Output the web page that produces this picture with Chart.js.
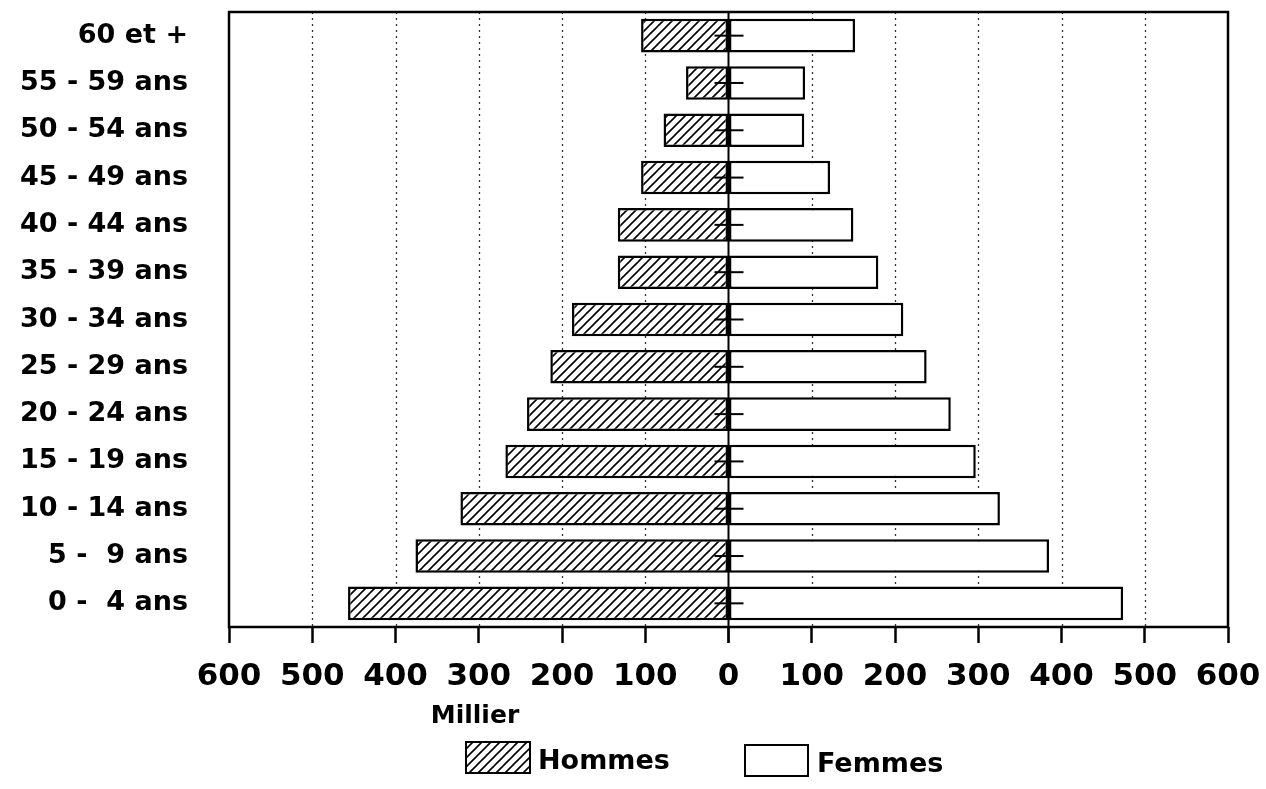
<!DOCTYPE html>
<html lang="fr">
<head>
  <meta charset="UTF-8" />
  <title>Pyramide des âges</title>
  <script src="https://cdn.jsdelivr.net/npm/chart.js"></script>
  <style>
    html, body { margin: 0; padding: 0; background: #fff; }
    #wrap { width: 1266px; height: 789px; position: relative; }
  </style>
</head>
<body>
  <div id="wrap"><canvas id="pyramid"></canvas></div>

  <script>
    // age groups, top to bottom
    const ageGroups = ["60 et +", "55 - 59 ans", "50 - 54 ans", "45 - 49 ans", "40 - 44 ans",
      "35 - 39 ans", "30 - 34 ans", "25 - 29 ans", "20 - 24 ans", "15 - 19 ans",
      "10 - 14 ans", "5 -  9 ans", "0 -  4 ans"];
    // milliers
    const hommes = [105, 51, 78, 105, 133, 133, 188, 214, 242, 268, 322, 376, 457];
    const femmes = [152, 92, 91, 122, 150, 180, 210, 238, 267, 297, 326, 385, 474];
    const xLimit = 600;
    const xStep = 100;

    const FONT = "'DejaVu Sans', sans-serif";

    // hatch pattern for Hommes
    function makeHatch() {
      const s = 9;
      const c = document.createElement("canvas");
      c.width = s; c.height = s;
      const g = c.getContext("2d");
      g.fillStyle = "#fff";
      g.fillRect(0, 0, s, s);
      g.strokeStyle = "#000";
      g.lineWidth = 1.6;
      g.beginPath();
      g.moveTo(0, s); g.lineTo(s, 0);
      g.moveTo(-s / 2, s / 2); g.lineTo(s / 2, -s / 2);
      g.moveTo(s / 2, s + s / 2); g.lineTo(s + s / 2, s / 2);
      g.stroke();
      return g.createPattern(c, "repeat");
    }
    const ctx = document.getElementById("pyramid").getContext("2d");
    const hatch = makeHatch();

    const pyramidDecor = {
      id: "pyramidDecor",
      beforeDatasetsDraw(chart) {
        const { ctx, chartArea: a, scales: { x } } = chart;
        ctx.save();
        ctx.strokeStyle = "#333";
        ctx.lineWidth = 1.3;
        ctx.setLineDash([2, 4]);
        x.ticks.forEach(t => {
          if (t.value === 0 || Math.abs(t.value) === xLimit) return;
          const px = Math.round(x.getPixelForValue(t.value)) + 0.5;
          ctx.beginPath();
          ctx.moveTo(px, a.top);
          ctx.lineTo(px, a.bottom);
          ctx.stroke();
        });
        ctx.restore();
      },
      afterDatasetsDraw(chart) {
        const { ctx, chartArea: a, scales: { x, y } } = chart;
        ctx.save();
        ctx.strokeStyle = "#000";
        // zero line
        const x0 = x.getPixelForValue(0);
        ctx.lineWidth = 2;
        ctx.beginPath();
        ctx.moveTo(x0, a.top);
        ctx.lineTo(x0, a.bottom + 16);
        ctx.stroke();
        // small ticks on the zero line
        ageGroups.forEach((g, i) => {
          const py = y.getPixelForValue(i);
          ctx.beginPath();
          ctx.moveTo(x0 - 14, py);
          ctx.lineTo(x0 + 15, py);
          ctx.stroke();
        });
        // frame
        ctx.lineWidth = 2.5;
        ctx.strokeRect(a.left, a.top, a.right - a.left, a.bottom - a.top);
        ctx.restore();
      },
      afterDraw(chart) {
        const { ctx } = chart;
        ctx.save();
        ctx.fillStyle = "#000";
        ctx.font = "bold 25px " + FONT;
        ctx.textAlign = "center";
        ctx.textBaseline = "middle";
        ctx.fillText("Millier", 475, 716);
        // legend
        const items = [
          { ds: chart.data.datasets[0], box: [466, 742, 64, 31], tx: 538, ty: 762 },
          { ds: chart.data.datasets[1], box: [745, 745, 63, 31], tx: 817, ty: 765 }
        ];
        ctx.font = "bold 27px " + FONT;
        ctx.textAlign = "left";
        items.forEach(it => {
          const [bx, by, bw, bh] = it.box;
          ctx.fillStyle = it.ds.backgroundColor;
          ctx.fillRect(bx, by, bw, bh);
          ctx.strokeStyle = "#000";
          ctx.lineWidth = 2;
          ctx.strokeRect(bx, by, bw, bh);
          ctx.fillStyle = "#000";
          ctx.fillText(it.ds.label, it.tx, it.ty);
        });
        ctx.restore();
      }
    };

    new Chart(ctx, {
      type: "bar",
      data: {
        labels: ageGroups,
        datasets: [
          {
            label: "Hommes",
            data: hommes.map(v => -v),
            backgroundColor: hatch,
            borderColor: "#000",
            borderWidth: 2.5,
            borderSkipped: false
          },
          {
            label: "Femmes",
            data: femmes,
            backgroundColor: "#fff",
            borderColor: "#000",
            borderWidth: 2.5,
            borderSkipped: false
          }
        ]
      },
      options: {
        indexAxis: "y",
        responsive: true,
        maintainAspectRatio: false,
        animation: false,
        devicePixelRatio: 1,
        layout: { padding: { top: 12, right: 38, bottom: 0, left: 0 } },
        barPercentage: 0.71,
        categoryPercentage: 1,
        scales: {
          x: {
            type: "linear",
            stacked: true,
            min: -xLimit,
            max: xLimit,
            afterFit(scale) {
              scale.height = 162;
              scale.paddingLeft = 0;
              scale.paddingRight = 0;
            },
            ticks: {
              stepSize: xStep,
              color: "#000",
              padding: 15,
              font: { family: FONT, size: 31, weight: "bold" },
              callback: v => Math.abs(v)
            },
            grid: {
              drawOnChartArea: false,
              drawTicks: true,
              tickLength: 16,
              tickWidth: 2.5,
              tickColor: "#000"
            },
            border: { display: false }
          },
          y: {
            stacked: true,
            afterFit(scale) {
              scale.width = 229;
              scale.paddingTop = 0;
              scale.paddingBottom = 0;
            },
            ticks: {
              color: "#000",
              padding: 0,
              font: { family: FONT, size: 27, weight: "bold" }
            },
            grid: {
              display: true,
              drawOnChartArea: false,
              drawTicks: true,
              tickLength: 41,
              tickColor: "rgba(0,0,0,0)"
            },
            border: { display: false }
          }
        },
        plugins: {
          legend: { display: false },
          tooltip: { enabled: false }
        }
      },
      plugins: [pyramidDecor]
    });
  </script>
</body>
</html>
